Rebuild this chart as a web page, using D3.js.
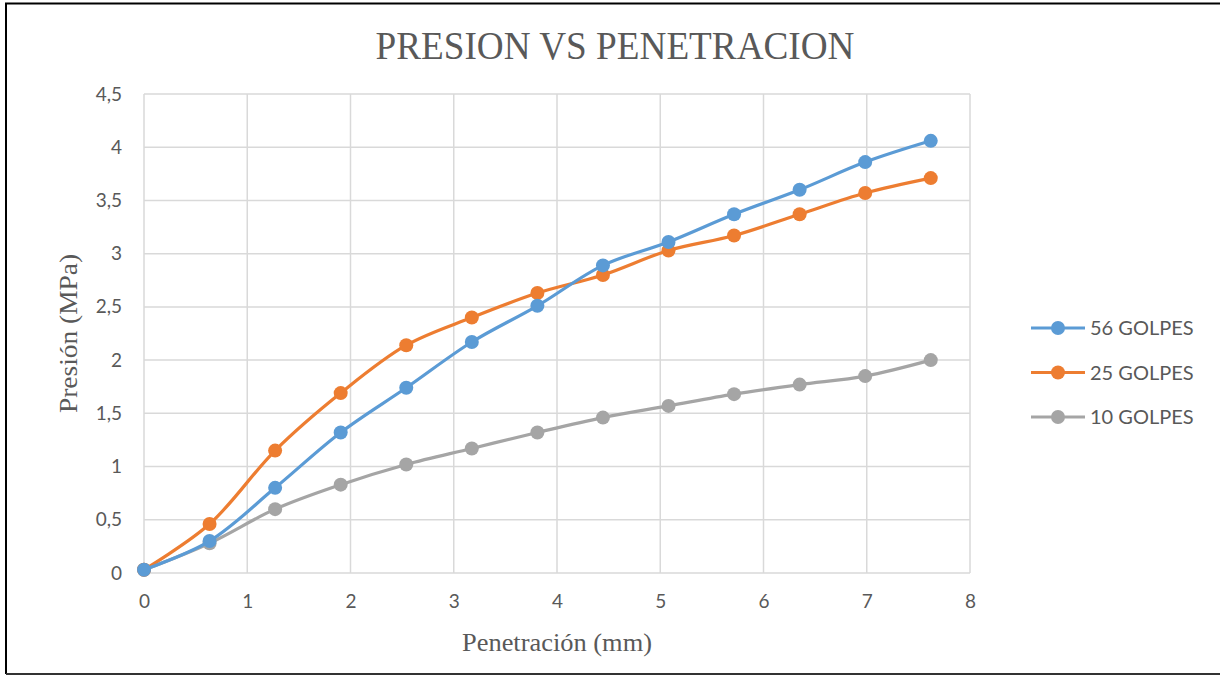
<!DOCTYPE html>
<html>
<head>
<meta charset="utf-8">
<script src="https://cdn.jsdelivr.net/npm/d3@7"></script>
<style>
  body { margin: 0; background: #fff; }
  svg { display: block; }
</style>
</head>
<body>
<div id="chart"></div>
<script>
// Datos
const penetracion = [0, 0.635, 1.27, 1.905, 2.54, 3.175, 3.81, 4.445, 5.08, 5.715, 6.35, 6.985, 7.62];
const golpes56 = [0.03, 0.30, 0.80, 1.32, 1.74, 2.17, 2.51, 2.89, 3.11, 3.37, 3.60, 3.86, 4.06];
const golpes25 = [0.03, 0.46, 1.15, 1.69, 2.14, 2.40, 2.63, 2.80, 3.03, 3.17, 3.37, 3.57, 3.71];
const golpes10 = [0.03, 0.28, 0.60, 0.83, 1.02, 1.17, 1.32, 1.46, 1.57, 1.68, 1.77, 1.85, 2.00];
const seriesNames = ["56 GOLPES", "25 GOLPES", "10 GOLPES"];
const seriesColors = ["#5b9bd5", "#ed7d31", "#a5a5a5"];
const xTicks = [0, 1, 2, 3, 4, 5, 6, 7, 8];
const yTicks = [0, 0.5, 1, 1.5, 2, 2.5, 3, 3.5, 4, 4.5];

const width = 1220;
const height = 675;
const margin = { top: 94, right: 250, bottom: 102, left: 144 };

const svg = d3.select("#chart").append("svg")
    .attr("width", width)
    .attr("height", height);

// marco exterior
svg.append("path")
    .attr("d", `M6,${height - 1}V3.5H${width}`)
    .attr("fill", "none")
    .attr("stroke", "#000")
    .attr("stroke-width", 2);
svg.append("line")
    .attr("x1", 6).attr("x2", width)
    .attr("y1", height - 1).attr("y2", height - 1)
    .attr("stroke", "#333").attr("stroke-width", 2);

const x = d3.scaleLinear([0, 8], [margin.left, width - margin.right]);
const y = d3.scaleLinear([0, 4.5], [height - margin.bottom, margin.top]);

const fmt = d => String(d).replace(".", ",");

// rejilla
svg.append("g")
    .selectAll("line")
    .data(xTicks)
    .join("line")
    .attr("x1", d => x(d)).attr("x2", d => x(d))
    .attr("y1", y(0)).attr("y2", y(4.5))
    .attr("stroke", "#d9d9d9").attr("stroke-width", 1.5);
svg.append("g")
    .selectAll("line")
    .data(yTicks)
    .join("line")
    .attr("x1", x(0)).attr("x2", x(8))
    .attr("y1", d => y(d)).attr("y2", d => y(d))
    .attr("stroke", "#d9d9d9").attr("stroke-width", 1.5);

// ejes
svg.append("g")
    .attr("transform", `translate(0,${y(0)})`)
    .call(d3.axisBottom(x).tickValues(xTicks).tickFormat(fmt).tickSize(0).tickPadding(22))
    .call(g => g.select(".domain").remove())
    .call(g => g.selectAll("text")
        .attr("font-family", "Lato, 'Open Sans', sans-serif")
        .attr("font-size", 19)
        .attr("fill", "#595959"));

svg.append("g")
    .attr("transform", `translate(${x(0)},0)`)
    .call(d3.axisLeft(y).tickValues(yTicks).tickFormat(fmt).tickSize(0).tickPadding(22))
    .call(g => g.select(".domain").remove())
    .call(g => g.selectAll("text")
        .attr("font-family", "Lato, 'Open Sans', sans-serif")
        .attr("font-size", 19)
        .attr("fill", "#595959"));

// series
const series = [golpes56, golpes25, golpes10].map((vals, i) => ({
    name: seriesNames[i],
    color: seriesColors[i],
    points: penetracion.map((p, j) => ({ x: p, y: vals[j] }))
}));

const line = d3.line()
    .x(d => x(d.x))
    .y(d => y(d.y))
    .curve(d3.curveCatmullRom.alpha(0.5));

// dibujar de atrás hacia delante (gris abajo)
const drawOrder = [2, 1, 0];
drawOrder.forEach(i => {
    const s = series[i];
    svg.append("path")
        .attr("fill", "none")
        .attr("stroke", s.color)
        .attr("stroke-width", 3.2)
        .attr("stroke-linejoin", "round")
        .attr("d", line(s.points));
    svg.append("g")
        .selectAll("circle")
        .data(s.points)
        .join("circle")
        .attr("cx", d => x(d.x))
        .attr("cy", d => y(d.y))
        .attr("r", 7)
        .attr("fill", s.color);
});

// título
svg.append("text")
    .attr("x", 615)
    .attr("y", 59)
    .attr("text-anchor", "middle")
    .attr("font-family", "'Liberation Serif', 'Times New Roman', serif")
    .attr("font-size", 39)
    .attr("fill", "#595959")
    .attr("textLength", 479)
    .attr("lengthAdjust", "spacingAndGlyphs")
    .text("PRESION VS PENETRACION");

// títulos de ejes
svg.append("text")
    .attr("x", (x(0) + x(8)) / 2)
    .attr("y", 651)
    .attr("text-anchor", "middle")
    .attr("font-family", "'Liberation Serif', 'Times New Roman', serif")
    .attr("font-size", 26)
    .attr("fill", "#595959")
    .attr("textLength", 190)
    .attr("lengthAdjust", "spacingAndGlyphs")
    .text("Penetración (mm)");

svg.append("text")
    .attr("transform", `translate(77,${(y(0) + y(4.5)) / 2}) rotate(-90)`)
    .attr("text-anchor", "middle")
    .attr("font-family", "'Liberation Serif', 'Times New Roman', serif")
    .attr("font-size", 26)
    .attr("fill", "#595959")
    .attr("textLength", 159)
    .attr("lengthAdjust", "spacingAndGlyphs")
    .text("Presión (MPa)");

// leyenda
const legend = svg.append("g")
    .selectAll("g")
    .data(series)
    .join("g")
    .attr("transform", (d, i) => `translate(1031,${328 + i * 44.5})`);

legend.append("line")
    .attr("x1", 0).attr("x2", 54)
    .attr("stroke", d => d.color)
    .attr("stroke-width", 3.2);
legend.append("circle")
    .attr("cx", 27).attr("r", 7)
    .attr("fill", d => d.color);
legend.append("text")
    .attr("x", 59)
    .attr("dy", "0.35em")
    .attr("font-family", "Lato, 'Open Sans', sans-serif")
    .attr("font-size", 20)
    .attr("fill", "#595959")
    .text(d => d.name);
</script>
</body>
</html>
